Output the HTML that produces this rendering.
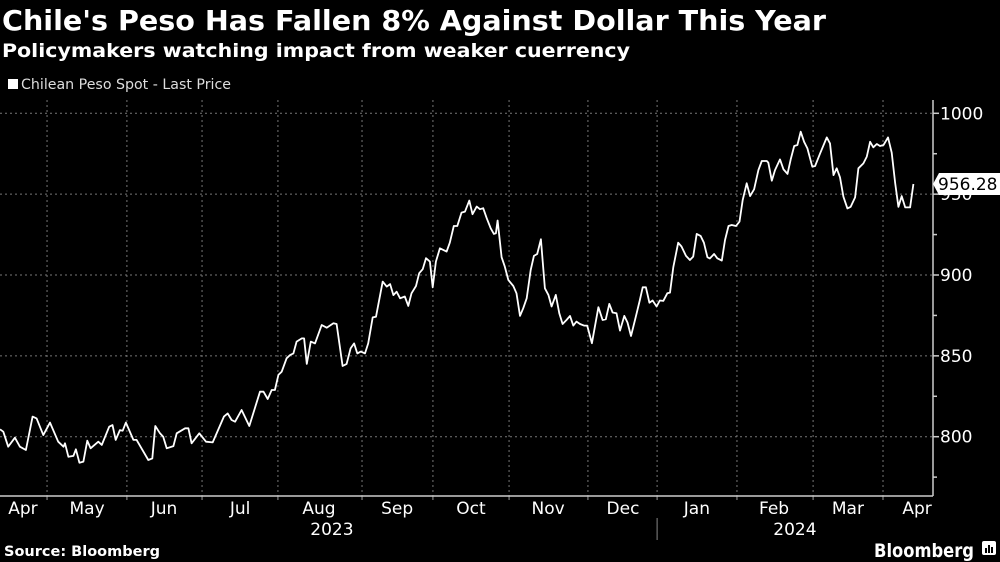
<!DOCTYPE html>
<html><head><meta charset="utf-8"><style>
html,body{margin:0;padding:0;background:#000;}
svg{display:block;}
text{font-family:"DejaVu Sans","Liberation Sans",sans-serif;fill:#fff;}
</style></head><body>
<svg id="chart" width="1000" height="562" viewBox="0 0 1000 562" xmlns="http://www.w3.org/2000/svg">
<rect width="1000" height="562" fill="#000"/>
<text x="2" y="30" font-size="28" font-weight="bold" textLength="824" lengthAdjust="spacingAndGlyphs">Chile's Peso Has Fallen 8% Against Dollar This Year</text>
<text x="2" y="57" font-size="19" font-weight="bold" textLength="628" lengthAdjust="spacingAndGlyphs">Policymakers watching impact from weaker cuerrency</text>
<g>
<rect x="8" y="79" width="10" height="10" fill="#fff"/>
<text x="21" y="89" font-size="14" fill="#ddd" style="fill:#ddd" textLength="210" lengthAdjust="spacingAndGlyphs">Chilean Peso Spot - Last Price</text>
</g>
<g id="grid"></g>
<g id="axes"></g>
<g id="series"></g>
<text x="4" y="556" font-size="14" font-weight="bold" textLength="156" lengthAdjust="spacingAndGlyphs">Source: Bloomberg</text>
<text x="874" y="557" font-size="19" font-weight="bold" textLength="100" lengthAdjust="spacingAndGlyphs">Bloomberg</text>
<g><rect x="982" y="541" width="14" height="14" rx="2" fill="#fff"/><rect x="985" y="548" width="2" height="5" fill="#000"/><rect x="988" y="545" width="2" height="8" fill="#000"/><rect x="991" y="547" width="2" height="6" fill="#000"/></g>
</svg>
<script>
const dayOffsets=[11.1,12.4,14.4,17.1,19.1,21.5,24.2,25.8,28.5,31.2,34.5,36.6,37.2,38.6,40.6,41.6,43.0,44.6,46.2,47.5,50.6,52.0,55.0,56.3,57.6,59.3,60.4,61.7,64.7,66.0,70.7,72.3,73.5,75.4,76.7,78.1,80.8,82.1,85.5,86.8,88.1,91.2,93.9,96.6,101.1,102.6,104.2,105.6,108.2,111.3,115.6,117.0,118.7,120.3,121.6,123.0,124.3,126.3,127.7,129.0,130.3,132.4,133.3,134.4,136.0,137.7,140.4,142.4,145.1,146.4,148.8,150.4,152.0,153.4,154.7,156.1,157.8,159.1,160.9,162.2,164.9,166.5,167.9,169.2,170.5,171.9,173.8,175.2,176.5,178.3,179.6,181.0,182.3,183.9,185.0,186.3,187.9,190.6,191.9,193.5,194.9,196.6,198.0,199.7,201.0,202.7,204.0,205.3,206.7,208.3,209.6,210.4,211.1,212.7,214.0,215.4,217.4,218.7,220.1,221.4,222.8,224.4,225.7,227.0,228.5,230.1,231.5,232.8,234.5,235.9,237.2,238.8,240.2,241.5,242.8,244.2,245.8,247.1,249.0,251.6,253.3,254.6,256.0,257.3,258.9,260.3,262.0,263.3,264.7,266.3,268.3,269.4,270.7,272.1,273.4,275.0,276.3,277.7,279.3,280.4,281.7,283.7,285.0,286.8,288.4,289.7,291.1,292.7,294.0,295.4,296.4,298.1,299.4,301.2,302.5,303.9,305.2,306.9,308.3,309.6,311.2,312.6,314.2,315.9,317.3,319.3,319.9,321.3,322.6,324.6,326.0,327.6,328.9,330.3,331.6,332.9,334.3,335.6,337.6,338.7,340.7,343.4,344.7,346.1,347.4,348.7,350.1,351.7,353.0,354.8,356.1,358.1,359.5,360.8,362.1,363.5,364.8,366.2,368.0,369.5,370.9,372.2,373.5,374.9,376.9,378.2];
const pesoValues=[804.6,803.1,793.8,799.4,793.8,791.8,812.4,811.3,801.0,808.7,796.9,793.8,795.9,787.6,788.1,792.2,783.9,784.6,797.5,792.8,796.9,794.9,806.2,807.2,798.0,804.1,803.7,808.7,798.0,798.0,785.6,786.6,806.6,802.1,800.0,792.8,794.2,802.1,805.2,805.2,795.9,802.1,796.9,796.5,812.4,814.4,810.3,809.3,816.5,806.6,827.8,827.8,823.3,828.9,828.9,838.2,840.2,848.5,850.5,851.5,858.8,860.8,860.8,845.0,858.8,857.7,869.1,867.4,870.1,869.7,843.7,845.0,854.6,857.7,851.5,852.6,851.5,857.7,873.8,874.2,895.9,892.8,894.4,887.6,889.7,885.6,886.7,880.9,888.7,893.2,901.1,903.6,910.4,908.3,892.4,908.3,916.5,914.5,920.0,930.3,930.3,938.6,939.2,946.0,937.6,942.3,940.7,941.3,935.1,928.9,925.4,925.8,933.7,911.0,905.2,897.0,893.2,888.7,874.7,879.4,885.6,903.1,911.8,913.0,922.1,891.8,887.7,880.5,887.7,876.3,869.7,872.2,874.7,868.7,871.2,869.7,868.7,868.7,857.8,880.1,872.2,872.6,882.1,876.8,876.3,865.6,874.7,870.6,862.3,872.2,884.6,892.4,892.4,882.9,884.2,880.5,884.2,884.0,888.7,889.1,904.8,920.0,917.6,911.8,909.3,911.4,925.4,924.2,920.0,911.0,910.2,913.0,910.3,908.9,921.6,930.3,930.9,930.3,933.0,946.4,956.7,948.8,953.0,964.9,970.5,970.5,969.5,958.3,964.9,971.5,965.3,962.5,971.5,979.8,980.4,988.6,982.4,978.3,967.0,967.4,975.2,985.1,981.4,961.8,966.0,960.4,948.4,941.2,942.2,948.0,966.0,969.0,973.2,982.4,979.0,981.0,979.8,980.4,985.1,975.7,956.7,942.2,948.8,941.8,941.8,956.28];
const yTicks=[800,850,900,950,1000];
const yMinorTicks=[775,825,875,925,975];
const monthLabels=["Apr","May","Jun","Jul","Aug","Sep","Oct","Nov","Dec","Jan","Feb","Mar","Apr"];
const monthLabelDays=[20.3,46.1,77,107.6,139.3,170.7,200.4,231.4,261.5,291.2,322.2,351.9,379.7];
const monthStartDays=[30,62.1,92.3,122.8,156.6,185.1,215.7,247.4,275.2,307.3,337.9,366];
const yearLabels=["2023","2024"];
const yearLabelDays=[144.5,330.6];
const yearBoundaryDays=[275.2];

const NS="http://www.w3.org/2000/svg";
const X0=-27.6, KX=2.488, AXISX=933, BASEY=496;
function xs(d){return X0+d*KX;}
function ys(v){return 113.3+(1000-v)*1.617;}
function mk(tag,attrs,parent){const e=document.createElementNS(NS,tag);for(const k in attrs)e.setAttribute(k,attrs[k]);parent.appendChild(e);return e;}
const grid=document.getElementById('grid'),axes=document.getElementById('axes'),series=document.getElementById('series');

yTicks.forEach(v=>{
  const l=mk('line',{x1:0,x2:AXISX,y1:ys(v),y2:ys(v),stroke:'#777','stroke-width':1,'stroke-dasharray':'2,3'},grid);
  
  
  const t=mk('line',{x1:AXISX,x2:AXISX+6,y1:ys(v),y2:ys(v),stroke:'#ccc','stroke-width':1.5},axes);
  
  
  const tx=mk('text',{x:AXISX+7,y:ys(v)+6,'font-size':17},axes);
  tx.textContent=v;
  
  
});
yMinorTicks.forEach(v=>{
  const t=mk('line',{x1:AXISX,x2:AXISX+4,y1:ys(v),y2:ys(v),stroke:'#ccc','stroke-width':1.5},axes);
  
  
});
monthStartDays.forEach(d=>{
  const l=mk('line',{x1:xs(d),x2:xs(d),y1:100,y2:BASEY,stroke:'#777','stroke-width':1,'stroke-dasharray':'2,3'},grid);
  
  
  const t=mk('line',{x1:xs(d),x2:xs(d),y1:BASEY,y2:BASEY+4,stroke:'#999','stroke-width':1},axes);
  
  
});
monthLabels.forEach((m,i)=>{
  const t=mk('text',{x:xs(monthLabelDays[i]),y:514,'font-size':17,'text-anchor':'middle'},axes);
  t.textContent=m;
  
  
});
yearLabels.forEach((y,i)=>{
  const t=mk('text',{x:xs(yearLabelDays[i]),y:535,'font-size':17,'text-anchor':'middle'},axes);
  t.textContent=y;
  
  
});
yearBoundaryDays.forEach(d=>{
  const l=mk('line',{x1:xs(d),x2:xs(d),y1:518,y2:540,stroke:'#888','stroke-width':1},axes);
  
  
});
const base=mk('line',{x1:0,x2:AXISX,y1:BASEY,y2:BASEY,stroke:'#ccc','stroke-width':1.5},axes);


const yax=mk('line',{x1:AXISX,x2:AXISX,y1:100,y2:BASEY,stroke:'#ccc','stroke-width':1.5},axes);



const pts=dayOffsets.map((d,i)=>xs(d).toFixed(1)+','+ys(pesoValues[i]).toFixed(1)).join(' ');
const line=mk('polyline',{points:pts,fill:'none',stroke:'#fff','stroke-width':1.8,'stroke-linejoin':'round'},series);



const last=pesoValues[pesoValues.length-1];
const ly=ys(last);
const cg=mk('g',{},axes);


mk('path',{d:`M${AXISX} ${ly} L${AXISX+6} ${ly-11} L1000 ${ly-11} L1000 ${ly+11} L${AXISX+6} ${ly+11} Z`,fill:'#fff'},cg);
const ct=mk('text',{x:AXISX+5,y:ly+6,'font-size':17,style:'fill:#000'},cg);
ct.textContent=last.toFixed(2);
</script>
</body></html>
